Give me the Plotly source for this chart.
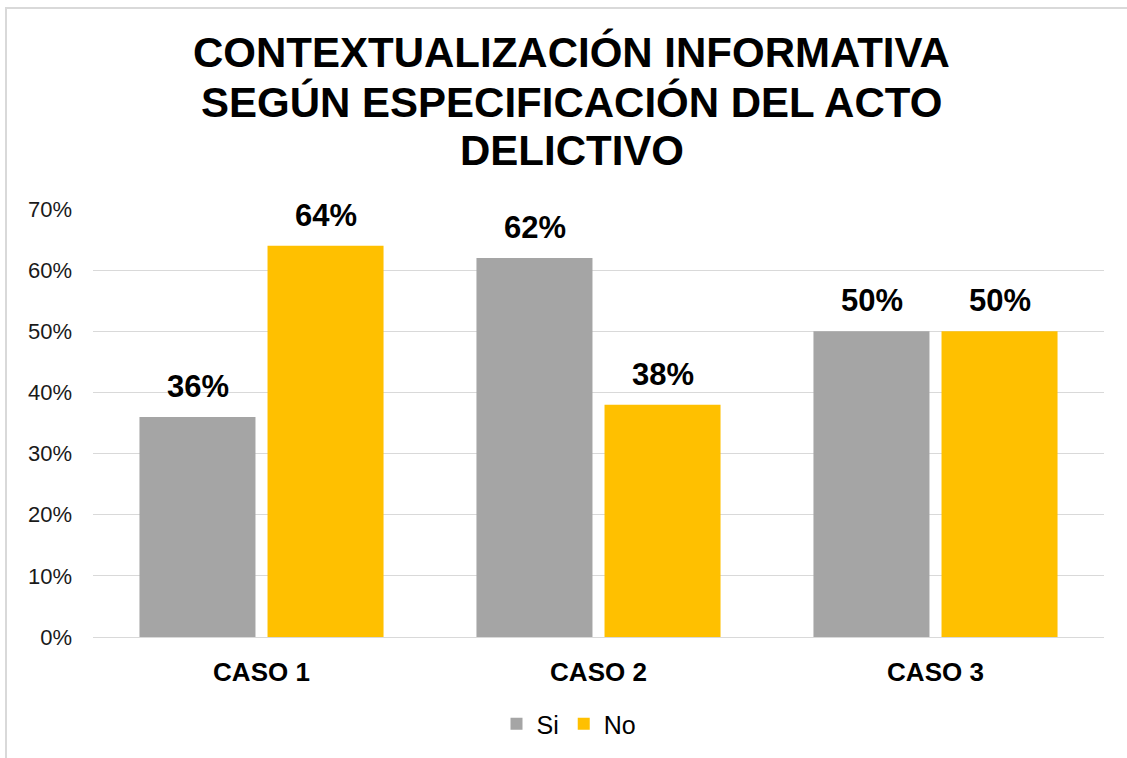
import plotly.graph_objects as go

# Data
categories = ["CASO 1", "CASO 2", "CASO 3"]
si_values = [36, 62, 50]
no_values = [64, 38, 50]
series_names = ["Si", "No"]
title_lines = [
    "CONTEXTUALIZACIÓN INFORMATIVA",
    "SEGÚN ESPECIFICACIÓN DEL ACTO",
    "DELICTIVO",
]

W, H = 1127, 758
ML, MR, MT, MB = 93, 23, 209, 121
PW, PH = W - ML - MR, H - MT - MB

FONT = "Liberation Sans, Arial, sans-serif"
GRAY = "#A5A5A5"
GOLD = "#FFC000"


def px_x(px):
    return (px - ML) / PW


def px_y(py):
    return (H - MB - py) / PH


fig = go.Figure()
fig.add_trace(go.Bar(name=series_names[0], x=categories, y=si_values,
                     marker=dict(color=GRAY, line=dict(width=0))))
fig.add_trace(go.Bar(name=series_names[1], x=categories, y=no_values,
                     marker=dict(color=GOLD, line=dict(width=0))))

annotations = []
# value labels above each bar
for vals, shift in ((si_values, -64), (no_values, 64)):
    for cat, v in zip(categories, vals):
        annotations.append(dict(
            x=cat, y=v, xref="x", yref="y", xshift=shift, yshift=11,
            text=f"<b>{v}%</b>", showarrow=False, yanchor="bottom",
            font=dict(family=FONT, size=31, color="#000000"),
        ))

# title lines
for line, cy in zip(title_lines, (52.5, 102, 151)):
    annotations.append(dict(
        x=px_x(571.5), y=px_y(cy), xref="paper", yref="paper",
        text=f"<b>{line}</b>", showarrow=False,
        xanchor="center", yanchor="middle",
        font=dict(family=FONT, size=42, color="#000000"),
    ))

fig.update_layout(
    width=W, height=H,
    margin=dict(l=ML, r=MR, t=MT, b=MB, autoexpand=False),
    paper_bgcolor="white", plot_bgcolor="white",
    barmode="group", bargap=0.24, bargroupgap=0.094,
    font=dict(family=FONT, color="#000000"),
    showlegend=True,
    legend=dict(orientation="h", x=px_x(569), y=px_y(724),
                xanchor="center", yanchor="middle",
                font=dict(family=FONT, size=25, color="#000000"),
                itemwidth=30, traceorder="normal"),
    annotations=annotations,
    shapes=[dict(type="rect", xref="paper", yref="paper",
                 x0=px_x(6), x1=px_x(1140), y0=px_y(770), y1=px_y(8),
                 line=dict(color="#D9D9D9", width=2), fillcolor="rgba(0,0,0,0)",
                 layer="below")],
)

fig.update_yaxes(range=[0, 70], dtick=10, ticksuffix="%",
                 showgrid=True, gridcolor="#D9D9D9", gridwidth=1,
                 zeroline=False, showline=False, ticks="",
                 ticklabelstandoff=20,
                 tickfont=dict(family=FONT, size=22, color="#1a1a1a"))
fig.update_xaxes(showline=True, linecolor="#D9D9D9", linewidth=1, ticks="",
                 ticklabelstandoff=12,
                 tickfont=dict(family=FONT, size=26, color="#000000"),
                 tickprefix="<b>", ticksuffix="</b>")

fig.write_html("out.html")
